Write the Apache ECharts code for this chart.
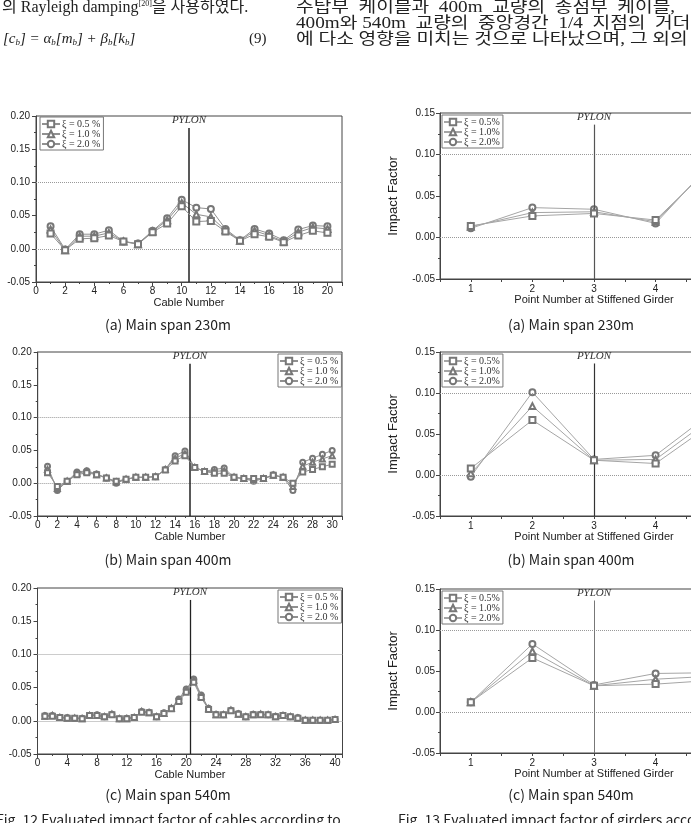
<!DOCTYPE html>
<html>
<head>
<meta charset="utf-8">
<script src="https://cdn.jsdelivr.net/npm/echarts@6/dist/echarts.min.js"></script>
<style>
html, body { margin: 0; padding: 0; background: #fff; }
#main { width: 691px; height: 823px; }
</style>
</head>
<body>
<div id="main"></div>
<script>
// cable numbers
const cablesA = [1, 2, 3, 4, 5, 6, 7, 8, 9, 10, 11, 12, 13, 14, 15, 16, 17, 18, 19, 20]
const cablesB = [1, 2, 3, 4, 5, 6, 7, 8, 9, 10, 11, 12, 13, 14, 15, 16, 17, 18, 19, 20,
  21, 22, 23, 24, 25, 26, 27, 28, 29, 30]
const cablesC = [1, 2, 3, 4, 5, 6, 7, 8, 9, 10, 11, 12, 13, 14, 15, 16, 17, 18, 19, 20,
  21, 22, 23, 24, 25, 26, 27, 28, 29, 30, 31, 32, 33, 34, 35, 36, 37, 38, 39, 40]
const points = [1, 2, 3, 4, 5]

// Fig.12 cables, main span 230m
const cabA05 = [0.023, -0.002, 0.015, 0.016, 0.020, 0.011, 0.007, 0.025, 0.038, 0.064,
  0.041, 0.042, 0.026, 0.012, 0.022, 0.018, 0.010, 0.020, 0.027, 0.024]
const cabA10 = [0.029, -0.002, 0.019, 0.019, 0.024, 0.011, 0.007, 0.026, 0.043, 0.069,
  0.052, 0.048, 0.028, 0.012, 0.027, 0.020, 0.011, 0.025, 0.032, 0.030]
const cabA20 = [0.034, -0.001, 0.022, 0.022, 0.028, 0.011, 0.008, 0.027, 0.046, 0.074,
  0.062, 0.060, 0.030, 0.013, 0.030, 0.023, 0.013, 0.029, 0.035, 0.034]

// main span 400m
const cabB05 = [0.016, -0.005, 0.003, 0.013, 0.016, 0.013, 0.008, 0.003, 0.006, 0.009,
  0.009, 0.010, 0.020, 0.034, 0.042, 0.024, 0.018, 0.015, 0.015, 0.009,
  0.007, 0.007, 0.007, 0.012, 0.009, 0.000, 0.017, 0.021, 0.025, 0.029]
const cabB10 = [0.021, -0.008, 0.003, 0.015, 0.018, 0.013, 0.008, 0.002, 0.006, 0.009,
  0.009, 0.010, 0.021, 0.038, 0.045, 0.024, 0.018, 0.018, 0.019, 0.009,
  0.007, 0.005, 0.007, 0.012, 0.009, -0.005, 0.026, 0.032, 0.037, 0.042]
const cabB20 = [0.026, -0.011, 0.003, 0.017, 0.019, 0.014, 0.008, 0.000, 0.006, 0.009,
  0.009, 0.010, 0.021, 0.042, 0.049, 0.024, 0.018, 0.021, 0.023, 0.009,
  0.007, 0.003, 0.007, 0.013, 0.009, -0.011, 0.032, 0.038, 0.044, 0.050]

// main span 540m
const cabC05 = [0.007, 0.007, 0.005, 0.004, 0.004, 0.003, 0.008, 0.008, 0.006, 0.009,
  0.003, 0.003, 0.005, 0.013, 0.012, 0.006, 0.011, 0.018, 0.029, 0.043,
  0.058, 0.035, 0.017, 0.009, 0.009, 0.015, 0.010, 0.006, 0.009, 0.009,
  0.009, 0.006, 0.008, 0.006, 0.004, 0.001, 0.001, 0.001, 0.001, 0.002]
const cabC10 = [0.007, 0.008, 0.005, 0.004, 0.004, 0.003, 0.008, 0.008, 0.006, 0.010,
  0.003, 0.003, 0.005, 0.014, 0.012, 0.006, 0.011, 0.019, 0.031, 0.046,
  0.061, 0.037, 0.018, 0.009, 0.009, 0.016, 0.010, 0.006, 0.009, 0.010,
  0.009, 0.006, 0.008, 0.006, 0.004, 0.001, 0.001, 0.001, 0.001, 0.002]
const cabC20 = [0.008, 0.008, 0.005, 0.005, 0.004, 0.004, 0.008, 0.009, 0.006, 0.010,
  0.003, 0.004, 0.005, 0.014, 0.013, 0.006, 0.012, 0.019, 0.033, 0.048,
  0.063, 0.039, 0.019, 0.010, 0.009, 0.016, 0.011, 0.006, 0.010, 0.010,
  0.009, 0.007, 0.008, 0.006, 0.005, 0.001, 0.001, 0.001, 0.001, 0.002]

// Fig.13 girders
const girA05 = [0.014, 0.026, 0.029, 0.021, 0.093]
const girA10 = [0.013, 0.030, 0.031, 0.019, 0.095]
const girA20 = [0.011, 0.036, 0.034, 0.017, 0.097]
const girB05 = [0.008, 0.067, 0.018, 0.014, 0.067]
const girB10 = [0.002, 0.084, 0.018, 0.019, 0.074]
const girB20 = [-0.002, 0.101, 0.019, 0.024, 0.081]
const girC05 = [0.012, 0.066, 0.032, 0.034, 0.039]
const girC10 = [0.012, 0.074, 0.032, 0.040, 0.044]
const girC20 = [0.012, 0.083, 0.033, 0.047, 0.048]

const namesL = ['ξ = 0.5 %', 'ξ = 1.0 %', 'ξ = 2.0 %']
const namesR = ['ξ = 0.5%', 'ξ = 1.0%', 'ξ = 2.0%']
const symbols = ['emptyRect', 'emptyTriangle', 'emptyCircle']

const SANS = '"Liberation Sans", Arial, sans-serif'
const SERIF = '"Liberation Serif", "Times New Roman", serif'
const KR = '"Liberation Serif", "Noto Sans CJK KR", serif'
const KRSANS = '"Noto Sans CJK KR", "Liberation Sans", sans-serif'

const chart = echarts.init(document.getElementById('main'))

const grids = [
  { left: 36, top: 116, width: 306, height: 166 },
  { left: 37.7, top: 352, width: 304.3, height: 164 },
  { left: 37.5, top: 588, width: 305, height: 166 },
  { left: 440, top: 113, width: 308, height: 166 },
  { left: 440, top: 352, width: 308, height: 164 },
  { left: 440, top: 589, width: 308, height: 164 }
].map(g => Object.assign(g, {
  show: true, borderColor: '#444', borderWidth: 1, backgroundColor: '#fff',
  containLabel: false, outerBoundsMode: 'none'
}))

function xAxisCable(idx, max, step) {
  return {
    gridIndex: idx, type: 'value', min: 0, max: max, interval: step,
    name: 'Cable Number', nameLocation: 'middle', nameGap: 15,
    nameTextStyle: { fontSize: 11, fontFamily: SANS, color: '#222' },
    axisLine: { onZero: false, lineStyle: { color: '#444' } },
    axisTick: { length: 4, lineStyle: { color: '#444' } },
    minorTick: { show: true, splitNumber: 2, length: 2, lineStyle: { color: '#444' } },
    axisLabel: { fontSize: 10, margin: 4, color: '#222', fontFamily: SANS,
      formatter: v => (v % step === 0 ? String(v) : '') },
    splitLine: { show: false }
  }
}

function xAxisPoint(idx) {
  return {
    gridIndex: idx, type: 'value', min: 0.5, max: 5.5, interval: 0.5,
    name: 'Point Number at Stiffened Girder', nameLocation: 'middle', nameGap: 15,
    nameTextStyle: { fontSize: 11, fontFamily: SANS, color: '#222' },
    axisLine: { onZero: false, lineStyle: { color: '#444' } },
    axisTick: { length: 3, lineStyle: { color: '#444' } },
    axisLabel: { fontSize: 10, margin: 5, color: '#222', fontFamily: SANS,
      formatter: v => (Math.abs(v - Math.round(v)) < 1e-6 ? String(Math.round(v)) : '') },
    splitLine: { show: false }
  }
}

function yAxisIF(idx, max, gap, margin) {
  return {
    gridIndex: idx, type: 'value', min: -0.05, max: max, interval: 0.05,
    name: 'Impact Factor', nameLocation: 'middle', nameGap: gap, nameRotate: 90,
    nameTextStyle: { fontSize: 13, fontFamily: SANS, color: '#222' },
    axisLine: { onZero: false, lineStyle: { color: '#444' } },
    axisTick: { length: 4, lineStyle: { color: '#444' } },
    minorTick: { show: true, splitNumber: 2, length: 2, lineStyle: { color: '#444' } },
    axisLabel: { fontSize: 10, margin: margin, color: '#222', fontFamily: SANS,
      formatter: v => v.toFixed(2) },
    splitLine: { show: false }
  }
}

function refLines(pylonX, min, top, pylonColor, pylonWidth) {
  const dot = { type: 'dotted', color: '#999', width: 1 }
  return {
    silent: true, symbol: 'none',
    data: [
      { yAxis: 0, lineStyle: dot, label: { show: false } },
      { yAxis: 0.1, lineStyle: dot, label: { show: false } },
      [
        { coord: [pylonX, min], lineStyle: { type: 'solid', color: pylonColor, width: pylonWidth },
          label: { show: true, position: 'end', formatter: 'PYLON', distance: 2,
            fontFamily: SERIF, fontStyle: 'italic', fontSize: 11, color: '#333' } },
        { coord: [pylonX, top] }
      ]
    ]
  }
}

function makeSeries(idx, names, xs, sets, size, lineColor, pylonX, pylonTop, pylonColor, pylonWidth) {
  return sets.map((ys, k) => {
    const s = {
      name: names[k], type: 'line', xAxisIndex: idx, yAxisIndex: idx,
      data: xs.map((x, i) => [x, ys[i]]),
      symbol: symbols[k], symbolSize: size,
      lineStyle: { color: lineColor, width: 1 },
      itemStyle: { color: '#777', borderWidth: 1 },
      z: 3 + (2 - k)
    }
    if (k === 0) s.markLine = refLines(pylonX, -0.05, pylonTop, pylonColor, pylonWidth)
    return s
  })
}

function legendAt(left, top, names) {
  return {
    data: names, orient: 'vertical', left: left, top: top,
    itemWidth: 18, itemHeight: 8, itemGap: 0,
    padding: [2, 3, 1, 1],
    borderColor: '#777', borderWidth: 1, backgroundColor: '#fff',
    selectedMode: false,
    textStyle: { fontFamily: SERIF, fontSize: 10, color: '#333', padding: [0, 0, 0, -3] }
  }
}

const series = [].concat(
  makeSeries(0, namesL, cablesA, [cabA05, cabA10, cabA20], 6, '#909090', 10.5, 0.182, '#222', 1.5),
  makeSeries(1, namesL, cablesB, [cabB05, cabB10, cabB20], 5, '#909090', 15.5, 0.182, '#222', 1.5),
  makeSeries(2, namesL, cablesC, [cabC05, cabC10, cabC20], 5, '#909090', 20.5, 0.182, '#222', 1.3),
  makeSeries(3, namesR, points, [girA05, girA10, girA20], 6, '#a5a5a5', 3, 0.136, '#555', 1.2),
  makeSeries(4, namesR, points, [girB05, girB10, girB20], 6, '#a5a5a5', 3, 0.136, '#333', 1.2),
  makeSeries(5, namesR, points, [girC05, girC10, girC20], 6, '#a5a5a5', 3, 0.136, '#777', 1)
)

function txt(x, y, text, font, align, rich, sx) {
  return { type: 'text', x: x, y: y, z: 100, scaleX: sx || 1,
    style: { text: text, font: font, fill: '#222', align: align || 'left', verticalAlign: 'top', rich: rich } }
}

chart.setOption({
  animation: false,
  grid: grids,
  xAxis: [xAxisCable(0, 21, 2), xAxisCable(1, 31, 2), xAxisCable(2, 41, 4),
    xAxisPoint(3), xAxisPoint(4), xAxisPoint(5)],
  yAxis: [yAxisIF(0, 0.20, 41, 6), yAxisIF(1, 0.20, 41, 6), yAxisIF(2, 0.20, 41, 6),
    yAxisIF(3, 0.15, 40, 5), yAxisIF(4, 0.15, 40, 5), yAxisIF(5, 0.15, 40, 5)],
  legend: [
    legendAt(40, 117, namesL), legendAt(278, 354, namesL), legendAt(278, 590, namesL),
    legendAt(442, 115, namesR), legendAt(442, 354, namesR), legendAt(442, 591, namesR)
  ],
  series: series,
  graphic: [
    txt(2, 0, '{t|의 Rayleigh damping}{sup|[20]}{t|을 사용하였다.}', '16px ' + KR, 'left', {
      t: { fontSize: 16, fontFamily: KR, fill: '#222' },
      sup: { fontSize: 8, fontFamily: SERIF, fill: '#222', verticalAlign: 'top', padding: [0, 0, 8, 0] }
    }),
    txt(3, 32, '{i|[c}{s|b}{i|] = α}{s|b}{i|[m}{s|b}{i|] + β}{s|b}{i|[k}{s|b}{i|]}', '15px ' + SERIF, 'left', {
      i: { fontSize: 15, fontFamily: SERIF, fontStyle: 'italic', fill: '#222' },
      s: { fontSize: 9, fontFamily: SERIF, fontStyle: 'italic', fill: '#222', padding: [6, 0, 0, 0] }
    }),
    txt(249, 32, '(9)', '15px ' + SERIF),
    txt(296, 0, '주탑부  케이블과  400m  교량의  종점부  케이블,', '16px ' + KR, 'left', null, 1.2),
    txt(296, 16, '400m와 540m  교량의  중앙경간  1/4  지점의  거더', '16px ' + KR, 'left', null, 1.2),
    txt(296, 32, '에 다소 영향을 미치는 것으로 나타났으며, 그 외의', '16px ' + KR, 'left', null, 1.2),
    txt(168, 318, '(a) Main span 230m', '14px ' + KRSANS, 'center'),
    txt(571, 318, '(a) Main span 230m', '14px ' + KRSANS, 'center'),
    txt(168, 553, '(b) Main span 400m', '14px ' + KRSANS, 'center'),
    txt(571, 553, '(b) Main span 400m', '14px ' + KRSANS, 'center'),
    txt(168, 788, '(c) Main span 540m', '14px ' + KRSANS, 'center'),
    txt(571, 788, '(c) Main span 540m', '14px ' + KRSANS, 'center'),
    txt(-4, 813, 'Fig. 12 Evaluated impact factor of cables according to', '14px ' + KRSANS),
    txt(398, 813, 'Fig. 13 Evaluated impact factor of girders according to', '14px ' + KRSANS)
  ]
})
</script>
</body>
</html>
